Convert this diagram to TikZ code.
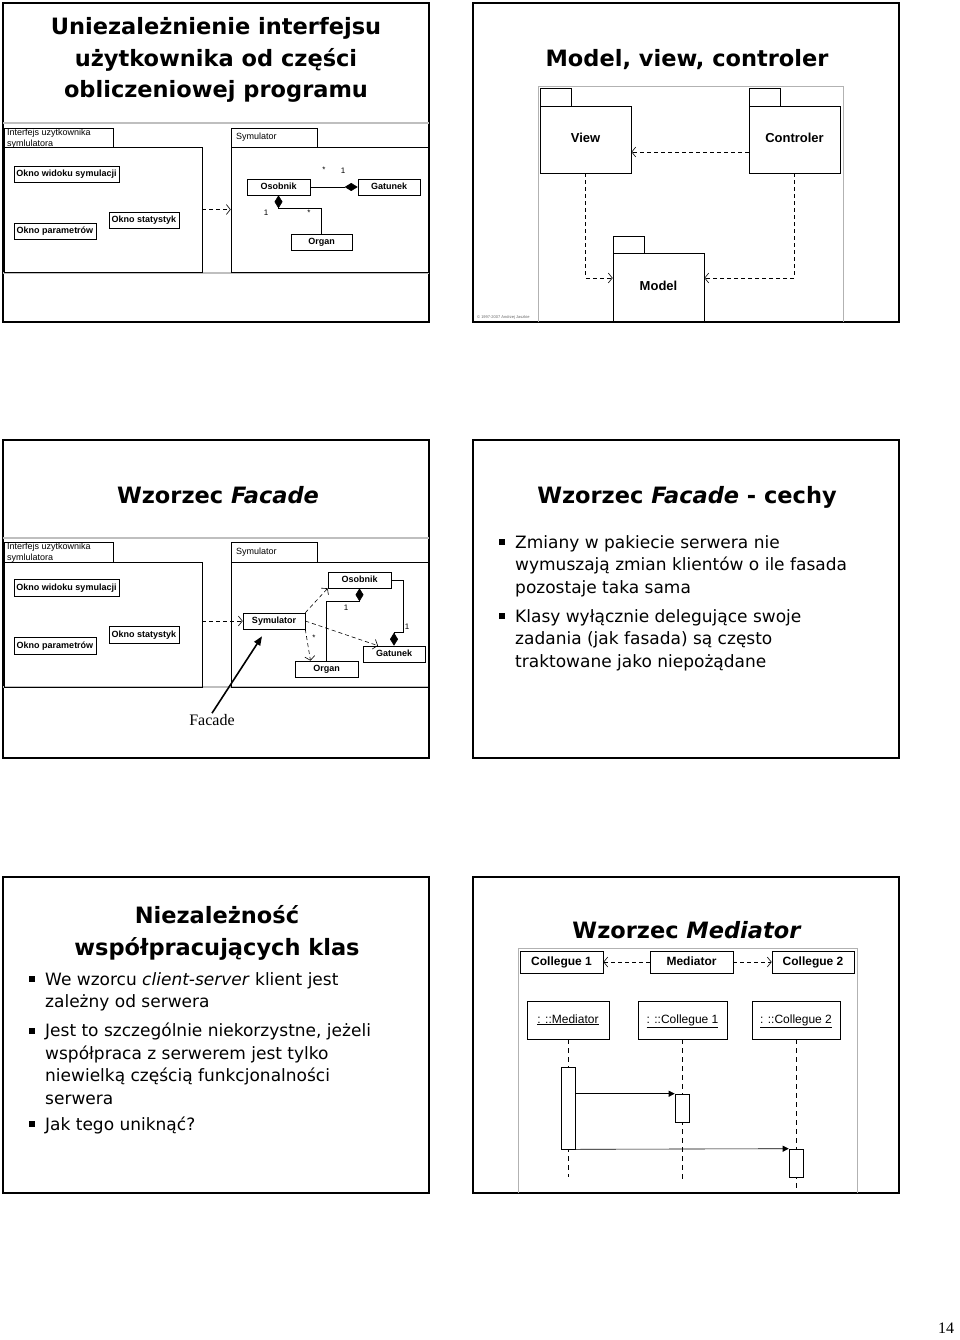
\documentclass[tikz,border=0pt]{standalone}
\usepackage{fontspec}
\setmainfont{DejaVu Sans}
\newfontfamily\umlfont{Liberation Sans}
\newfontfamily\timesfont{Liberation Serif}
\usetikzlibrary{positioning,arrows.meta,calc}

\begin{document}
\begin{tikzpicture}[x=1pt, y=-1pt,
  slide/.style={draw, line width=1.8pt},
  gline/.style={draw=black!25, line width=1.5pt},
  frame/.style={draw=black!30, line width=0.6pt},
  title/.style={font=\bfseries\fontsize{22.5}{31.5}\selectfont, align=center, anchor=base, inner sep=0pt},
  body/.style={font=\fontsize{17}{22.5}\selectfont, align=left, anchor=base west, inner sep=0pt},
  bul/.style={fill, minimum size=5.5pt, inner sep=0pt},
  pkg/.style={draw, line width=0.6pt},
  cls/.style={draw, line width=0.6pt, font=\umlfont\bfseries\fontsize{9}{10}\selectfont, inner sep=0pt, minimum height=16pt, text height=6.5pt, text depth=1.5pt},
  big/.style={draw, line width=0.7pt, font=\umlfont\bfseries\fontsize{13}{15}\selectfont, inner sep=0pt, text height=9pt, text depth=2.5pt},
  obj/.style={draw, line width=0.7pt, font=\umlfont\fontsize{12}{14}\selectfont, inner sep=0pt, minimum height=38pt, text height=8.5pt, text depth=2.5pt},
  act/.style={draw, fill=white, line width=0.6pt, minimum width=14pt, inner sep=0pt},
  lbl/.style={font=\umlfont\fontsize{9}{11}\selectfont, inner sep=1pt},
  mult/.style={font=\umlfont\fontsize{8}{9}\selectfont, inner sep=0pt},
  dep/.style={dash pattern=on 4pt off 3pt, line width=0.6pt, -{Straight Barb[length=4pt,width=10pt]}},
  comp/.style={line width=0.6pt, -{Diamond[length=13pt,width=8pt]}},
  life/.style={dash pattern=on 5pt off 4pt, line width=0.6pt},
  msg/.style={line width=0.6pt, -{Triangle[length=6pt,width=6pt]}}
]
\useasboundingbox (0,0) rectangle (960,1340);

% ---------- slide 1
\draw[slide] (3,3) rectangle (429,322);
\node[title] (tit1) at (216,98) {Uniezależnienie interfejsu\\użytkownika od części\\obliczeniowej programu};
\draw[gline] (3,123) -- (429,123);
\draw[gline] (3,273) -- (429,273);
\draw[pkg] (4,128) rectangle (113,147);
\node[lbl, anchor=north west, align=left] (tabui1) at (6,128) {Interfejs uzytkownika\\symlulatora};
\node[pkg, minimum width=198pt, minimum height=125pt] (ui1) at (103,209.5) {};
\node[cls, minimum width=105pt] (okview1) at (66.5,174) {Okno widoku symulacji};
\node[cls, minimum width=70pt] (okstat1) at (144,220) {Okno statystyk};
\node[cls, minimum width=82pt] (okpar1) at (55,231) {Okno parametrów};
\draw[pkg] (231,128) rectangle (317,147);
\node[lbl, anchor=west] (tabsim1) at (235,137) {Symulator};
\node[pkg, minimum width=197pt, minimum height=125pt] (sim1) at (329.5,209.5) {};
\draw[dep] (ui1.east) -- (sim1.west);
\node[cls, minimum width=63pt] (osob1) at (278.5,187) {Osobnik};
\node[cls, minimum width=62pt] (gat1) at (389,187) {Gatunek};
\node[cls, minimum width=61pt] (org1) at (321.5,242) {Organ};
\draw[comp] (osob1.east) -- (gat1.west);
\draw[comp] (org1.north) |- ([yshift=-13pt]osob1.south) -- (osob1.south);
\node[mult] (m1a) at (324,170) {*};
\node[mult] (m1b) at (343,171) {1};
\node[mult] (m1c) at (266,213) {1};
\node[mult] (m1d) at (309,213) {*};

% ---------- slide 2
\draw[slide] (473,3) rectangle (899,322);
\node[title] (tit2) at (687,67) {Model, view, controler};
\draw[frame] (538,322) |- (843,86) -- (843,322);
\draw[pkg] (540,88) rectangle (571,106);
\node[big, minimum width=91pt, minimum height=67pt] (view) at (585.5,139.5) {View};
\draw[pkg] (749,88) rectangle (780,106);
\node[big, minimum width=91pt, minimum height=67pt] (ctrl) at (794.5,139.5) {Controler};
\draw[pkg] (613,236) rectangle (644,253);
\node[big, minimum width=91pt, minimum height=68pt] (model) at (658.5,287) {Model};
\draw[dep] ([yshift=-12.5pt]ctrl.west) -- ([yshift=-12.5pt]view.east);
\draw[dep] (view.south) |- ([yshift=9pt]model.west);
\draw[dep] (ctrl.south) |- ([yshift=9pt]model.east);
\node[anchor=south west, font=\umlfont\fontsize{4}{5}\selectfont, text=black!60, inner sep=0pt] (copy) at (477,320) {© 1997-2007 Andrzej Jaszkie};

% ---------- slide 3
\draw[slide] (3,440) rectangle (429,758);
\node[title] (tit3) at (218,503) {Wzorzec \textit{Facade}};
\draw[gline] (3,538) -- (429,538);
\draw[gline] (3,687) -- (429,687);
\draw[pkg] (4,542) rectangle (113,562);
\node[lbl, anchor=north west, align=left] (tabui3) at (6,542) {Interfejs uzytkownika\\symlulatora};
\node[pkg, minimum width=198pt, minimum height=125pt] (ui3) at (103,624.5) {};
\node[cls, minimum width=105pt, minimum height=17pt] (okview3) at (66.5,588) {Okno widoku symulacji};
\node[cls, minimum width=70pt, minimum height=17pt] (okstat3) at (144,634.5) {Okno statystyk};
\node[cls, minimum width=82pt, minimum height=17pt] (okpar3) at (55,645.5) {Okno parametrów};
\draw[pkg] (231,542) rectangle (317,562);
\node[lbl, anchor=west] (tabsim3) at (235,552) {Symulator};
\node[pkg, minimum width=197pt, minimum height=125pt] (sim3) at (329.5,624.5) {};
\node[cls, minimum width=62pt] (symc) at (274,621) {Symulator};
\node[cls, minimum width=63pt] (osob3) at (359.5,580) {Osobnik};
\node[cls, minimum width=62pt] (gat3) at (394,654) {Gatunek};
\node[cls, minimum width=63pt] (org3) at (326.5,669) {Organ};
\draw[dep] (ui3.east |- symc.west) -- (symc.west);
\draw[dep] (symc.north east) -- (osob3.south west);
\draw[dep] (symc.east) -- ([xshift=-16pt]gat3.north);
\draw[dep] (symc.south east) -- ([xshift=-16pt]org3.north);
\draw[comp] (osob3.east) -| ([xshift=9pt,yshift=13pt]gat3.north) -| (gat3.north);
\draw[comp] (org3.north) |- ([yshift=-13pt]osob3.south) -- (osob3.south);
\node[mult] (m3a) at (346,608) {1};
\node[mult] (m3b) at (407,627) {1};
\node[mult] (m3c) at (314,638) {*};
\node[font=\timesfont\fontsize{16}{18}\selectfont, inner sep=1pt] (facade) at (212,720) {Facade};
\draw[line width=1.6pt, -{Triangle[length=9pt,width=7pt]}] (facade.north) -- ($(symc.south)+(-12,7)$);

% ---------- slide 4
\draw[slide] (473,440) rectangle (899,758);
\node[title] (tit4) at (687,503) {Wzorzec \textit{Facade} - cechy};
\node[bul] (b41) at (502,542) {};
\node[body] (t41) at (515,593) {Zmiany w pakiecie serwera nie\\wymuszają zmian klientów o ile fasada\\pozostaje taka sama};
\node[bul] (b42) at (502,616) {};
\node[body] (t42) at (515,667) {Klasy wyłącznie delegujące swoje\\zadania (jak fasada) są często\\traktowane jako niepożądane};

% ---------- slide 5
\draw[slide] (3,877) rectangle (429,1193);
\node[title, font=\bfseries\fontsize{22.5}{32}\selectfont] (tit5) at (217,955) {Niezależność\\współpracujących klas};
\node[bul] (b51) at (32,979) {};
\node[body] (t51) at (45,1007.5) {We wzorcu \textit{client-server} klient jest\\zależny od serwera};
\node[bul] (b52) at (32,1031) {};
\node[body] (t52) at (45,1104) {Jest to szczególnie niekorzystne, jeżeli\\współpraca z serwerem jest tylko\\niewielką częścią funkcjonalności\\serwera};
\node[bul] (b53) at (32,1124) {};
\node[body] (t53) at (45,1130) {Jak tego uniknąć?};

% ---------- slide 6
\draw[slide] (473,877) rectangle (899,1193);
\node[title] (tit6) at (687,938) {Wzorzec \textit{Mediator}};
\draw[frame] (518,1193) |- (857,948) -- (857,1193);
\node[big, font=\umlfont\bfseries\fontsize{12}{14}\selectfont, minimum width=83pt, minimum height=22pt] (col1) at (561.5,962) {Collegue 1};
\node[big, font=\umlfont\bfseries\fontsize{12}{14}\selectfont, minimum width=83pt, minimum height=22pt] (med) at (691.5,962) {Mediator};
\node[big, font=\umlfont\bfseries\fontsize{12}{14}\selectfont, minimum width=82pt, minimum height=22pt] (col2) at (813,962) {Collegue 2};
\draw[dep] (med.west) -- (col1.east);
\draw[dep] (med.east) -- (col2.west);
\node[obj, minimum width=82pt] (omed) at (568,1020) {\underline{: ::Mediator}};
\node[obj, minimum width=89pt] (ocol1) at (682.5,1020) {\underline{: ::Collegue 1}};
\node[obj, minimum width=88pt] (ocol2) at (796,1020) {\underline{: ::Collegue 2}};
\coordinate (emed) at (568,1177);
\coordinate (ecol1) at (682.5,1180);
\coordinate (ecol2) at (796,1193);
\draw[life] (omed.south) -- (emed);
\draw[life] (ocol1.south) -- (ecol1);
\draw[life] (ocol2.south) -- (ecol2);
\node[act, minimum height=82pt] (amed) at (568,1108) {};
\node[act, minimum height=28pt] (acol1) at (682,1108) {};
\node[act, minimum height=28pt] (acol2) at (796,1163) {};
\draw[msg] (amed.east |- acol1.north) -- (acol1.north west);
\draw[msg] (amed.south east) -- (acol2.north west);

% page number
\node[font=\timesfont\fontsize{16}{18}\selectfont] (pagenum) at (946,1328) {14};
\end{tikzpicture}
\end{document}
